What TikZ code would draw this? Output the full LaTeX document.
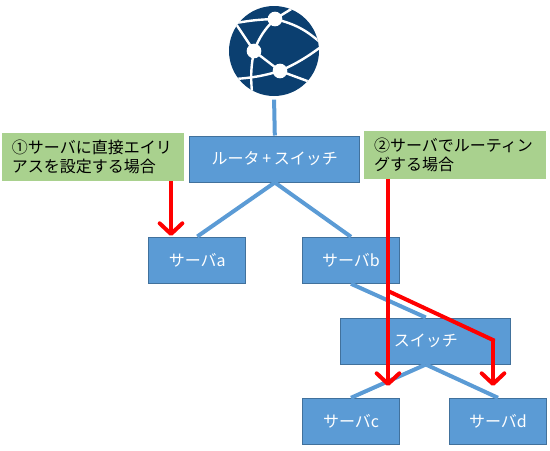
\documentclass[tikz,border=0pt]{standalone}
\usepackage{fontspec}
\setmainfont{Noto Sans CJK JP}
\usetikzlibrary{arrows.meta}
\definecolor{boxblue}{HTML}{5B9BD5}
\definecolor{boxline}{HTML}{41719C}
\definecolor{notegreen}{HTML}{A9D18E}
\definecolor{globeblue}{HTML}{0B3F70}
\tikzset{
  devbox/.style={draw=boxline, fill=boxblue, text=white, line width=0.75pt, font=\fontsize{12}{14}\selectfont, minimum width=72.5pt, minimum height=34.5pt, inner sep=0pt},
  widebox/.style={devbox, minimum width=127.5pt},
  notebox/.style={fill=notegreen, text=black, font=\fontsize{12}{14.8}\selectfont, minimum width=137pt, minimum height=36pt, text width=121.5pt, inner sep=0pt, align=left},
  link/.style={draw=boxblue, line width=3pt},
  route/.style={draw=red, line width=3pt},
  routetip/.style={route, -{Straight Barb[length=8pt, width=17pt, line width=3pt, round]}},
  hub/.style={circle, fill=white, inner sep=0pt, minimum size=11pt},
  mesh/.style={draw=white, line width=1.8pt}
}
\begin{document}
\begin{tikzpicture}[x=0.75pt, y=-0.75pt]
  \useasboundingbox (0,0) rectangle (550,450);
  % globe
  \node[circle, fill=globeblue, inner sep=0pt, minimum size=67.5pt] (globe) at (274,51) {};
  \begin{scope}
    \clip (274,51) circle (45);
    \coordinate (hubt) at (275,19);
    \coordinate (hubl) at (254,51);
    \coordinate (hubb) at (280,71);
    \draw[mesh] (hubl) to[bend left=12] (hubt);
    \draw[mesh] (hubl) -- (hubb);
    \draw[mesh] (hubl) -- (236,24);
    \draw[mesh] (hubl) to[bend right=8] (252,92);
    \draw[mesh] (hubt) to[bend right=4] (236,23);
    \draw[mesh] (hubt) -- (293,8);
    \draw[mesh] (hubt) to[bend left=14] (322,44);
    \draw[mesh] (hubb) to[bend left=6] (235,79);
    \draw[mesh] (hubb) to[bend right=6] (322,46);
    \draw[mesh] (hubb) -- (310,82);
  \end{scope}
  \node[hub] (nett) at (hubt) {};
  \node[hub] (netl) at (hubl) {};
  \node[hub] (netb) at (hubb) {};
  % boxes
  \node[widebox] (router) at (274.8,159) {ルータ\kern2pt+\kern2pt スイッチ};
  \node[devbox] (srva) at (197.3,260) {サーバa};
  \node[devbox] (srvb) at (351,260.3) {サーバb};
  \node[widebox] (sw) at (425.8,341) {スイッチ};
  \node[devbox] (srvc) at (351,421.3) {サーバc};
  \node[devbox] (srvd) at (498,421.3) {サーバd};
  \node[notebox] (notea) at (93,157) {①サーバに直接エイリ\\アスを設定する場合};
  \node[notebox] (noteb) at (455,155) {②サーバでルーティン\\グする場合};
  % links
  \draw[link, shorten <=2.5pt] (globe.south) -- (router.north);
  \draw[link] (router.south) -- (srva.north);
  \draw[link] (router.south) -- (srvb.north);
  \draw[link] (srvb.south) -- (sw.north);
  \draw[link] (sw.south) -- (srvc.north);
  \draw[link] (sw.south) -- (srvd.north);
  % routes
  \coordinate (tipa) at (171,236);
  \coordinate (tipc) at (388,386);
  \coordinate (tipd) at (493,386);
  \coordinate (split) at (388,291);
  \coordinate (bend) at (493,340);
  \draw[routetip] (tipa |- notea.south) -- (tipa);
  \draw[routetip] (tipc |- noteb.south) -- (tipc);
  \draw[route, line join=miter] (split) -- (bend) -- (tipd |- sw.center);
  \draw[routetip] (bend) -- (tipd);
\end{tikzpicture}
\end{document}
